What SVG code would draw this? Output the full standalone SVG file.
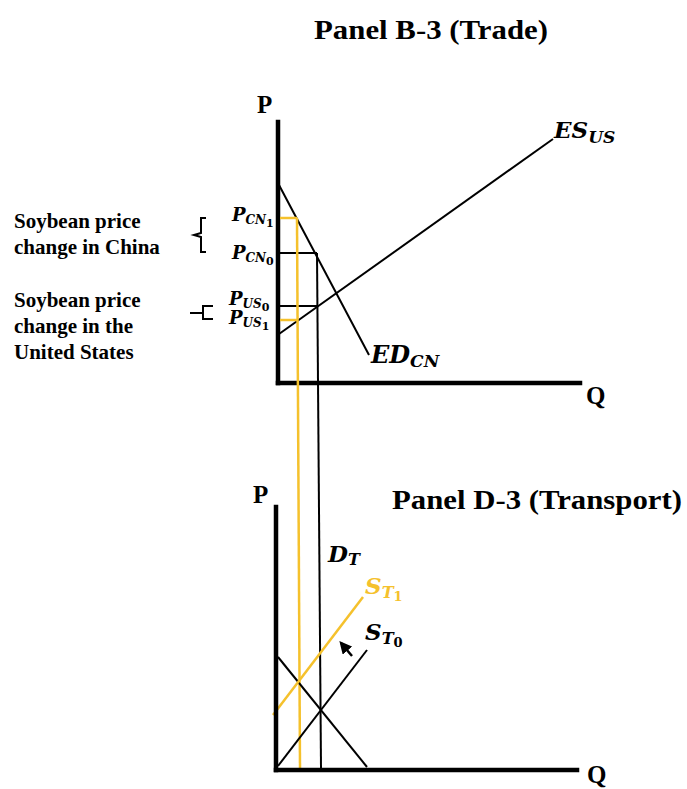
<svg xmlns="http://www.w3.org/2000/svg" width="687" height="789" viewBox="0 0 687 789">
<defs>
<style>
.title{font-family:"Liberation Serif",serif;font-weight:bold;font-size:28px;fill:#000}
.side{font-family:"Liberation Serif",serif;font-weight:bold;font-size:21px;fill:#000}
.ax{font-family:"Liberation Serif",serif;font-weight:bold;font-size:25px;fill:#000}
.m{font-family:"DejaVu Serif",serif;font-style:italic;font-weight:bold;fill:#000}
.axis{stroke:#000;stroke-width:4.5;fill:none;stroke-linecap:square}
.ln{stroke:#000;stroke-width:2;fill:none}
.yl{stroke:#F5C12C;stroke-width:2.5;fill:none}
.br{stroke:#000;stroke-width:2;fill:none}
</style>
<marker id="ah" viewBox="0 0 10 10" refX="8" refY="5" markerWidth="5" markerHeight="5" orient="auto">
<path d="M0,0 L10,5 L0,10 z" fill="#000"/>
</marker>
</defs>
<rect width="687" height="789" fill="#fff"/>

<g id="titles">
<text class="title" x="314" y="39" textLength="234" lengthAdjust="spacingAndGlyphs">Panel B-3 (Trade)</text>
<text class="title" x="392" y="509" textLength="290" lengthAdjust="spacingAndGlyphs">Panel D-3 (Transport)</text>
</g>

<g id="side-labels">
<text class="side" x="14" y="228">Soybean price</text>
<text class="side" x="14" y="254">change in China</text>
<text class="side" x="14" y="307">Soybean price</text>
<text class="side" x="14" y="333">change in the</text>
<text class="side" x="14" y="359">United States</text>
<path class="br" d="M206,218 L201,218 L201,233 L194,235 L201,237 L201,252 L206,252"/>
<path class="br" d="M190,313 L203,313 M213,306 L203,306 L203,319 L213,319"/>
</g>

<g id="panel-b-axes">
<line class="axis" x1="278" y1="122" x2="278" y2="383"/>
<line class="axis" x1="278" y1="383" x2="580" y2="383"/>
<text class="ax" x="257" y="113">P</text>
<text class="ax" x="586" y="404">Q</text>
</g>

<g id="connectors">
<line class="ln" x1="279" y1="185" x2="369" y2="355"/>
<line class="ln" x1="279" y1="334" x2="553" y2="139"/>
<line class="ln" x1="280" y1="253" x2="317" y2="253"/>
<line class="ln" x1="280" y1="306" x2="317" y2="306"/>
<line class="ln" x1="317" y1="253" x2="321" y2="768"/>
<line class="yl" x1="280" y1="218" x2="297" y2="218"/>
<line class="yl" x1="280" y1="320" x2="297" y2="320"/>
<line class="yl" x1="297" y1="218" x2="300" y2="768"/>
<line class="ln" x1="278" y1="657" x2="367" y2="767"/>
<line class="ln" x1="278" y1="766" x2="367" y2="650"/>
<line class="yl" x1="273" y1="715" x2="363" y2="597"/>
<line stroke="#000" stroke-width="2.5" x1="352" y1="656" x2="341" y2="643" marker-end="url(#ah)"/>
</g>

<g id="price-labels">
<text class="m" x="232" y="221" font-size="18">P<tspan font-size="12" dy="3">CN</tspan><tspan font-size="11" dy="3" font-style="normal">1</tspan></text>
<text class="m" x="232" y="259" font-size="18">P<tspan font-size="12" dy="3">CN</tspan><tspan font-size="11" dy="3" font-style="normal">0</tspan></text>
<text class="m" x="229" y="305" font-size="18">P<tspan font-size="12" dy="3">US</tspan><tspan font-size="11" dy="3" font-style="normal">0</tspan></text>
<text class="m" x="229" y="324" font-size="18">P<tspan font-size="12" dy="3">US</tspan><tspan font-size="11" dy="3" font-style="normal">1</tspan></text>
</g>

<g id="curve-labels">
<text class="m" x="554" y="138" font-size="23">ES<tspan font-size="17" dy="5">US</tspan></text>
<text class="m" x="371" y="363" font-size="24">ED<tspan font-size="17" dy="4">CN</tspan></text>
<text class="m" x="328" y="562" font-size="23">D<tspan font-size="16" dy="3">T</tspan></text>
<text class="m" x="365" y="594" font-size="23" style="fill:#F5C12C">S<tspan font-size="16" dy="4">T</tspan><tspan font-size="13" dy="3" font-style="normal">1</tspan></text>
<text class="m" x="365" y="640" font-size="23">S<tspan font-size="16" dy="4">T</tspan><tspan font-size="13" dy="3" font-style="normal">0</tspan></text>
</g>

<g id="panel-d-axes">
<line class="axis" x1="276" y1="507" x2="276" y2="770"/>
<line class="axis" x1="276" y1="770" x2="577" y2="770"/>
<text class="ax" x="253" y="503">P</text>
<text class="ax" x="587" y="783" font-size="23">Q</text>
</g>
</svg>
